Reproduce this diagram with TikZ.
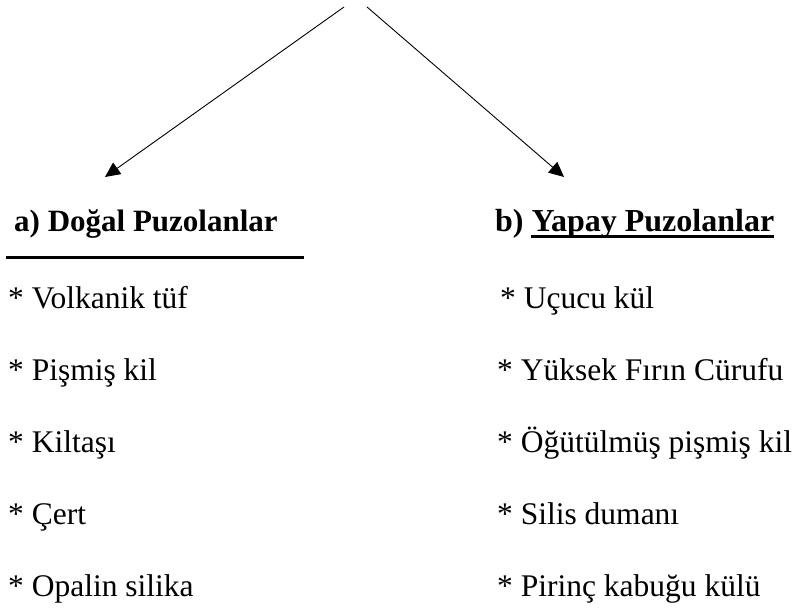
\documentclass[tikz,border=0pt]{standalone}
\usepackage{fontspec}
\setmainfont{Liberation Serif}
\usetikzlibrary{arrows.meta}
\tikzset{
  item/.style={anchor=base west, inner sep=0pt, font=\fontsize{31.5}{36}\selectfont},
  head/.style={anchor=base west, inner sep=0pt, font=\fontsize{31}{36}\selectfont\bfseries},
  headb/.style={head, font=\fontsize{32}{37}\selectfont\bfseries},
  arr/.style={line width=0.9pt, -{Triangle[length=15pt, width=14pt]}},
  rule/.style={line width=3pt}
}
\begin{document}
\begin{tikzpicture}[x=1pt,y=1pt]
\useasboundingbox (0,0) rectangle (795,609);
\fill[white] (0,0) rectangle (795,609);
% arrows
\coordinate (ltop) at (344,602);
\coordinate (rtop) at (367,602);
\coordinate (ltip) at (105,432);
\coordinate (rtip) at (564,432);
\draw[arr] (ltop) -- (ltip);
\draw[arr] (rtop) -- (rtip);
% headings
\node[head] (ha) at (14,377) {a) Doğal Puzolanlar};
\node[headb] (hb) at (495,377) {b)};
\node[headb] (hbt) at ([xshift=7.5pt]hb.base east) {Yapay Puzolanlar};
\draw[line width=2.5pt] ([yshift=-4.5pt]hbt.base west) -- ([yshift=-4.5pt]hbt.base east);
\coordinate (rl) at (6,351.5);
\coordinate (rr) at (304,351.5);
\draw[rule] (rl) -- (rr);
% left items
\node[item] (l1) at (8,300) {* Volkanik tüf};
\node[item] (l2) at (8,228) {* Pişmiş kil};
\node[item] (l3) at (8,156) {* Kiltaşı};
\node[item] (l4) at (8,84) {* Çert};
\node[item] (l5) at (8,12) {* Opalin silika};
% right items
\node[item] (r1) at (500,300) {* Uçucu kül};
\node[item] (r2) at (497,228) {* Yüksek Fırın Cürufu};
\node[item] (r3) at (497,156) {* Öğütülmüş pişmiş kil};
\node[item] (r4) at (497,84) {* Silis dumanı};
\node[item] (r5) at (497,12) {* Pirinç kabuğu külü};
\end{tikzpicture}
\end{document}
